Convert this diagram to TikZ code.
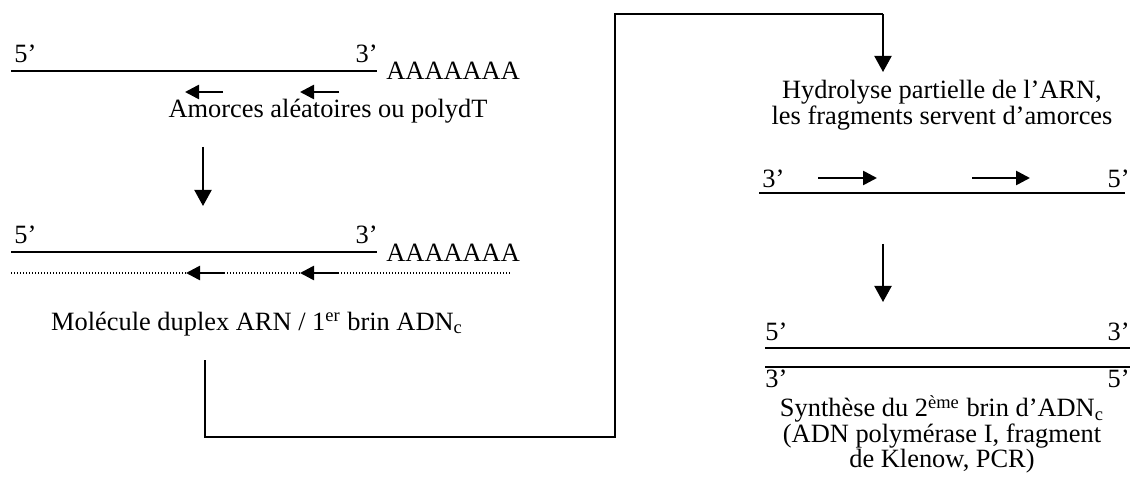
\documentclass[tikz,border=0pt]{standalone}
\usepackage{fontspec}
\setmainfont{Liberation Serif}
\usetikzlibrary{arrows.meta}
\begin{document}
\begin{tikzpicture}[x=0.5pt,y=-0.5pt,
  every node/.style={inner sep=0pt, font=\fontsize{13.2}{12.7}\selectfont},
  strand/.style={line width=0.9pt},
  primer/.style={line width=1.3pt, -{Triangle[length=7pt,width=7pt]}},
  flow/.style={line width=1pt, -{Triangle[length=8pt,width=8.5pt]}},
  link/.style={line width=1pt},
  cdna/.style={line width=0.8pt, dash pattern=on 0.6pt off 0.9pt},
  lab/.style={anchor=base west},
  labr/.style={anchor=base east},
]
\useasboundingbox (0,0) rectangle (1135,497);

% ---- step 1: mRNA with primers
\node[lab] (s1five) at (14,63) {5’};
\node[labr] (s1three) at (378,63) {3’};
\coordinate (rna1w) at (11,71);
\coordinate (rna1e) at (377,71);
\draw[strand] (rna1w) -- (rna1e);
\node[lab] (polyA1) at (386,80) {AAAAAAA};
\coordinate (pa1t) at (223,92); \coordinate (pa1h) at (185,92);
\coordinate (pa2t) at (339,92); \coordinate (pa2h) at (300,92);
\draw[primer] (pa1t) -- (pa1h);
\draw[primer] (pa2t) -- (pa2h);
\node[anchor=base] (amorces) at (328,118) {Amorces aléatoires ou polydT};

\coordinate (d1a) at (203,147); \coordinate (d1b) at (203,206);
\draw[flow] (d1a) -- (d1b);

% ---- step 2: RNA / cDNA duplex
\node[lab] (s2five) at (14,244) {5’};
\node[labr] (s2three) at (378,244) {3’};
\coordinate (rna2w) at (11,252);
\coordinate (rna2e) at (377,252);
\draw[strand] (rna2w) -- (rna2e);
\node[lab] (polyA2) at (386,262) {AAAAAAA};
\coordinate (cdw) at (11,273); \coordinate (cde) at (510,273);
\draw[cdna] (cdw) -- (cde);
\coordinate (pb1t) at (224,273); \coordinate (pb1h) at (186,273);
\coordinate (pb2t) at (339,273); \coordinate (pb2h) at (300,273);
\draw[primer] (pb1t) -- (pb1h);
\draw[primer] (pb2t) -- (pb2h);
\node[anchor=base] (duplex) at (257,330) {Molécule duplex ARN / 1\textsuperscript{er} brin ADN\textsubscript{c}};

% ---- connector to step 3
\coordinate (c0) at (205,360);
\coordinate (c1) at (205,437);
\coordinate (c2) at (615,437);
\coordinate (c3) at (615,14);
\coordinate (c4) at (883,14);
\coordinate (c5) at (883,72);
\draw[link] (c0) -- (c1) -- (c2) -- (c3) -- (c4);
\draw[flow] (c4) -- (c5);

% ---- step 3: hydrolysis
\node[align=center, anchor=north] (hydro) at (942,80) {Hydrolyse partielle de l’ARN,\\les fragments servent d’amorces};
\node[lab] (s3three) at (762,188) {3’};
\node[labr] (s3five) at (1130,188) {5’};
\coordinate (f3w) at (759,193); \coordinate (f3e) at (1125,193);
\draw[strand] (f3w) -- (f3e);
\coordinate (pc1t) at (818,178); \coordinate (pc1h) at (877,178);
\coordinate (pc2t) at (972,178); \coordinate (pc2h) at (1030,178);
\draw[primer] (pc1t) -- (pc1h);
\draw[primer] (pc2t) -- (pc2h);

\coordinate (d2a) at (883,244); \coordinate (d2b) at (883,302);
\draw[flow] (d2a) -- (d2b);

% ---- step 4: double-stranded cDNA
\node[lab] (s4five) at (765,341) {5’};
\node[labr] (s4three) at (1130,341) {3’};
\coordinate (ds1w) at (765,348); \coordinate (ds1e) at (1130,348);
\coordinate (ds2w) at (765,367); \coordinate (ds2e) at (1130,367);
\draw[strand] (ds1w) -- (ds1e);
\draw[strand] (ds2w) -- (ds2e);
\node[lab] (s4threeb) at (765,387) {3’};
\node[labr] (s4fiveb) at (1130,387) {5’};
\node[align=center, anchor=north] (synth) at (942,395) {Synthèse du 2\textsuperscript{ème} brin d’ADN\textsubscript{c}\\(ADN polymérase I, fragment\\de Klenow, PCR)};
\end{tikzpicture}
\end{document}
